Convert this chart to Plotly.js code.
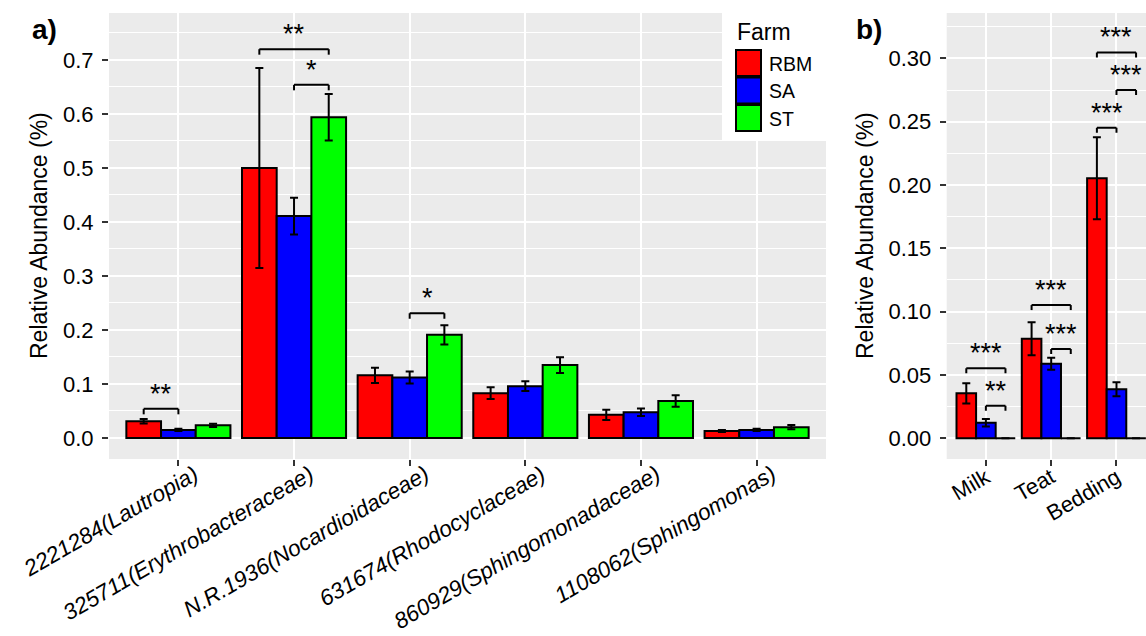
<!DOCTYPE html>
<html>
<head>
<meta charset="utf-8">
<script src="https://cdn.plot.ly/plotly-3.0.1.min.js"></script>
<style>
  html, body { margin: 0; padding: 0; background: #fff; }
  #chart { width: 1146px; height: 636px; }
</style>
</head>
<body>
<div id="chart"></div>
<script>
// ---- Panel a: top OTUs by farm ----
const otuLabels = ['2221284(Lautropia)', '325711(Erythrobacteraceae)', 'N.R.1936(Nocardioidaceae)',
                   '631674(Rhodocyclaceae)', '860929(Sphingomonadaceae)', '1108062(Sphingomonas)'];
const farms = ['RBM', 'SA', 'ST'];
const farmColors = ['#FF0000', '#0000FF', '#00FF00'];

const rbmA    = [0.031, 0.500, 0.116, 0.083, 0.043, 0.013];
const rbmErrA = [0.004, 0.185, 0.014, 0.011, 0.0095, 0.002];
const saA     = [0.015, 0.411, 0.112, 0.096, 0.0475, 0.015];
const saErrA  = [0.002, 0.034, 0.011, 0.009, 0.007, 0.002];
const stA     = [0.0235, 0.594, 0.191, 0.135, 0.0685, 0.020];
const stErrA  = [0.003, 0.043, 0.018, 0.0145, 0.0105, 0.004];

// significance brackets, panel a (group index: 0 RBM, 1 SA, 2 ST)
const sigCatA   = [0, 1, 1, 2];
const sigFromA  = [0, 0, 1, 1];
const sigToA    = [1, 2, 2, 2];
const sigYA     = [0.054, 0.720, 0.654, 0.231];
const sigTextA  = ['**', '**', '*', '*'];

// ---- Panel b: sample types ----
const sampleTypes = ['Milk', 'Teat', 'Bedding'];
const rbmB    = [0.0355, 0.0786, 0.2053];
const rbmErrB = [0.008, 0.013, 0.0323];
const saB     = [0.0123, 0.0589, 0.0387];
const saErrB  = [0.003, 0.0048, 0.0055];
const stB     = [0, 0, 0];
const stErrB  = [0, 0, 0];

const sigCatB   = [0, 0, 1, 1, 2, 2, 2];
const sigFromB  = [0, 1, 0, 1, 0, 1, 0];
const sigToB    = [2, 2, 2, 2, 1, 2, 2];
const sigYB     = [0.0553, 0.0257, 0.1052, 0.0705, 0.2452, 0.275, 0.3047];
const sigTextB  = ['***', '**', '***', '***', '***', '***', '***'];

// ---- geometry ----
const W = 1146, H = 636;
const FONT = 'Liberation Sans, Arial, Helvetica, sans-serif';
const px = x => x / W;
const py = y => 1 - y / H;
const plotTop = 13, plotBottom = 459;
const yDomain = [py(plotBottom), py(plotTop)];
const rangeA = [-0.0389, 0.787];
const rangeB = [-0.01634, 0.3358];
const dodge = 0.3;   // bar width in category units (0.9 / 3)

function barTrace(x, y, err, i, xa, ya) {
  return {
    type: 'bar', x: x, y: y, name: farms[i], xaxis: xa, yaxis: ya,
    marker: { color: farmColors[i], line: { color: '#000', width: 2 } },
    error_y: { type: 'data', array: err, visible: true, color: '#000', thickness: 2, width: 4 },
    showlegend: false, hoverinfo: 'x+y+name'
  };
}

const data = [
  barTrace(otuLabels, rbmA, rbmErrA, 0, 'x', 'y'),
  barTrace(otuLabels, saA, saErrA, 1, 'x', 'y'),
  barTrace(otuLabels, stA, stErrA, 2, 'x', 'y'),
  barTrace(sampleTypes, rbmB, rbmErrB, 0, 'x2', 'y2'),
  barTrace(sampleTypes, saB, saErrB, 1, 'x2', 'y2'),
  barTrace(sampleTypes, stB, stErrB, 2, 'x2', 'y2')
];

const shapes = [];
const annotations = [];

// bracket + stars built from the significance arrays
function addBrackets(cats, from, to, ys, texts, xref, yref, range, dropPx) {
  const unitPerPx = (range[1] - range[0]) / (plotBottom - plotTop);
  const drop = dropPx * unitPerPx;
  for (let k = 0; k < cats.length; k++) {
    const x0 = cats[k] + (from[k] - 1) * dodge;
    const x1 = cats[k] + (to[k] - 1) * dodge;
    const y = ys[k];
    const line = { color: '#000', width: 2 };
    shapes.push({ type: 'line', xref: xref, yref: yref, x0: x0, x1: x1, y0: y, y1: y, line: line });
    shapes.push({ type: 'line', xref: xref, yref: yref, x0: x0, x1: x0, y0: y, y1: y - drop, line: line });
    shapes.push({ type: 'line', xref: xref, yref: yref, x0: x1, x1: x1, y0: y, y1: y - drop, line: line });
    annotations.push({
      xref: xref, yref: yref, x: (x0 + x1) / 2, y: y, text: texts[k],
      showarrow: false, xanchor: 'center', yanchor: 'bottom', yshift: -2,
      font: { family: FONT, size: 27, color: '#000' }
    });
  }
}
addBrackets(sigCatA, sigFromA, sigToA, sigYA, sigTextA, 'x', 'y', rangeA, 5.5);
addBrackets(sigCatB, sigFromB, sigToB, sigYB, sigTextB, 'x2', 'y2', rangeB, 5);

// slanted category labels, right/top aligned just below each tick
function addCategoryLabels(labels, xref, topPx, shift, font, italic) {
  labels.forEach((lab, i) => {
    annotations.push({
      xref: xref, yref: 'paper', x: i, y: py(topPx), text: italic ? '<i>' + lab + '</i>' : lab,
      textangle: -30, showarrow: false, xanchor: 'right', yanchor: 'top', xshift: shift,
      borderpad: 0, font: font
    });
  });
}
addCategoryLabels(otuLabels, 'x', 460, 25, { family: FONT, size: 22.5, color: '#000' }, true);
addCategoryLabels(sampleTypes, 'x2', 462, 10, { family: FONT, size: 22, color: '#000' }, false);

// legend for farm (inside panel a, top right)
shapes.push({ type: 'rect', xref: 'paper', yref: 'paper', x0: px(722), x1: px(826), y0: py(140), y1: py(plotTop),
              fillcolor: '#fff', line: { width: 0 }, layer: 'above' });
const keyTops = [50, 77.5, 105];
for (let i = 0; i < farms.length; i++) {
  shapes.push({ type: 'rect', xref: 'paper', yref: 'paper', x0: px(736), x1: px(761),
                y0: py(keyTops[i] + 26), y1: py(keyTops[i]),
                fillcolor: farmColors[i], line: { color: '#000', width: 2 }, layer: 'above' });
  annotations.push({ xref: 'paper', yref: 'paper', x: px(767), y: py(keyTops[i] + 13.5), text: farms[i],
                     showarrow: false, xanchor: 'left', yanchor: 'middle',
                     font: { family: FONT, size: 19.5, color: '#000' } });
}
annotations.push({ xref: 'paper', yref: 'paper', x: px(735), y: py(32), text: 'Farm',
                   showarrow: false, xanchor: 'left', yanchor: 'middle',
                   font: { family: FONT, size: 23, color: '#000' } });

// panel tags and axis titles
annotations.push({ xref: 'paper', yref: 'paper', x: px(30), y: py(30), text: '<b>a)</b>',
                   showarrow: false, xanchor: 'left', yanchor: 'middle',
                   font: { family: FONT, size: 28, color: '#000' } });
annotations.push({ xref: 'paper', yref: 'paper', x: px(854), y: py(30), text: '<b>b)</b>',
                   showarrow: false, xanchor: 'left', yanchor: 'middle',
                   font: { family: FONT, size: 28, color: '#000' } });
annotations.push({ xref: 'paper', yref: 'paper', x: px(39), y: py(236), text: 'Relative Abundance (%)',
                   textangle: -90, showarrow: false, xanchor: 'center', yanchor: 'middle',
                   font: { family: FONT, size: 23, color: '#000' } });
annotations.push({ xref: 'paper', yref: 'paper', x: px(865), y: py(236), text: 'Relative Abundance (%)',
                   textangle: -90, showarrow: false, xanchor: 'center', yanchor: 'middle',
                   font: { family: FONT, size: 23, color: '#000' } });

const tickFont = { family: FONT, size: 22, color: '#000' };
const commonX = {
  type: 'category', showgrid: true, gridcolor: '#fff', gridwidth: 2, zeroline: false,
  ticks: 'outside', ticklen: 6, tickwidth: 2, tickcolor: '#333', showticklabels: false,
  showline: false, fixedrange: true
};
const commonY = {
  showgrid: true, gridcolor: '#fff', gridwidth: 2, zeroline: false,
  ticks: 'outside', ticklen: 6, tickwidth: 2, tickcolor: '#333', tickfont: tickFont,
  ticklabelstandoff: 4, showline: false, fixedrange: true
};

const layout = {
  width: W, height: H,
  margin: { l: 0, r: 0, t: 0, b: 0 },
  paper_bgcolor: '#fff', plot_bgcolor: '#EBEBEB',
  barmode: 'group', bargap: 0.1, bargroupgap: 0,
  showlegend: false,
  xaxis: Object.assign({}, commonX, {
    domain: [px(109), px(826)], anchor: 'y', range: [-0.6, 5.6]
  }),
  yaxis: Object.assign({}, commonY, {
    domain: yDomain, anchor: 'x', range: rangeA, dtick: 0.1, tick0: 0, tickformat: '.1f',
    minor: { dtick: 0.05, tick0: 0, showgrid: true, gridcolor: '#fff', gridwidth: 1 }
  }),
  xaxis2: Object.assign({}, commonX, {
    domain: [px(946.7), 1], anchor: 'y2', range: [-0.6, 2.452]
  }),
  yaxis2: Object.assign({}, commonY, {
    domain: yDomain, anchor: 'x2', range: rangeB, dtick: 0.05, tick0: 0, tickformat: '.2f',
    minor: { dtick: 0.025, tick0: 0, showgrid: true, gridcolor: '#fff', gridwidth: 1 }
  }),
  shapes: shapes,
  annotations: annotations
};

Plotly.newPlot('chart', data, layout, { displayModeBar: false, staticPlot: true });
</script>
</body>
</html>
